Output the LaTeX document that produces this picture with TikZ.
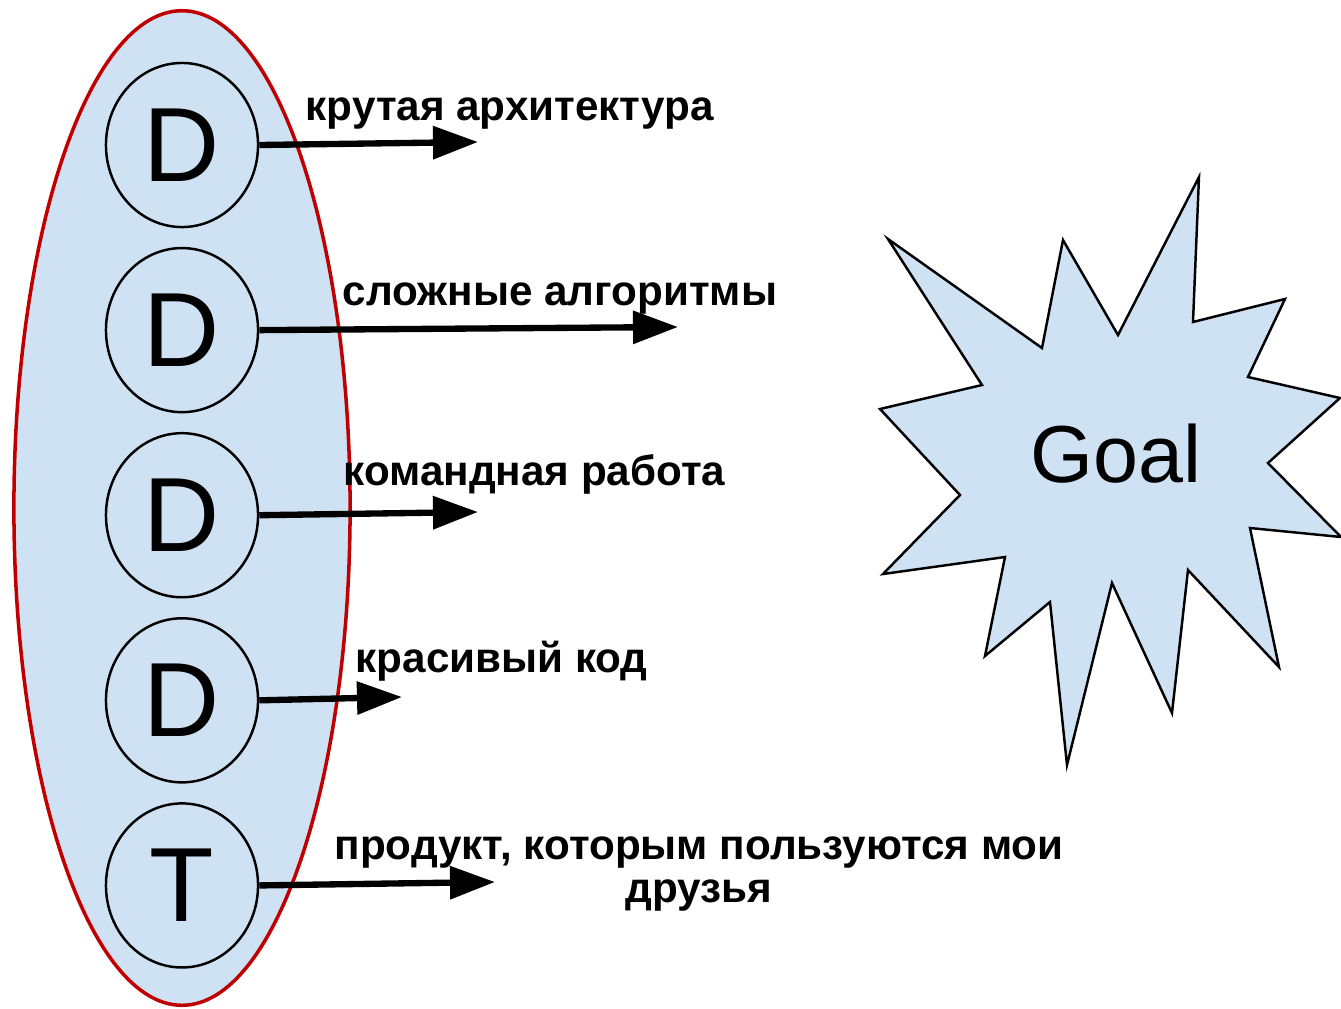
\documentclass[tikz,border=0pt]{standalone}
\usepackage{fontspec}
\setmainfont{Liberation Sans}
\usetikzlibrary{arrows.meta, shapes.geometric}
\definecolor{paleblue}{HTML}{CFE2F3}
\definecolor{darkred}{HTML}{C00000}

\begin{document}
\begin{tikzpicture}[x=0.01cm, y=-0.01cm, node distance=1.85cm,
	letter/.style={ellipse, draw, line width=0.7pt, minimum width=1.52cm, minimum height=1.64cm, inner sep=0pt, font=\fontsize{30}{36}\selectfont},
	arr/.style={-{Triangle[length=0.45cm, width=0.32cm]}, line width=1.8pt},
	note/.style={anchor=base west, inner sep=0pt, font=\fontsize{12}{12}\selectfont\bfseries}]
	\useasboundingbox (0,0) rectangle (1341,1008);

	\draw[darkred, fill=paleblue, line width=1pt] (182,508) ellipse (1.68cm and 4.97cm);

	\node[letter] (d1) at (182,145) {D};
	\node[letter] (d2) [below of=d1] {D};
	\node[letter] (d3) [below of=d2] {D};
	\node[letter] (d4) [below of=d3] {D};
	\node[letter] (t1) [below of=d4] {T};

	\coordinate (e1) at (478,142);
	\coordinate (e2) at (678,327);
	\coordinate (e3) at (478,512);
	\coordinate (e4) at (402,697);
	\coordinate (e5) at (495,882);

	\draw[arr] (d1.east) -- (e1);
	\draw[arr] (d2.east) -- (e2);
	\draw[arr] (d3.east) -- (e3);
	\draw[arr] (d4.east) -- (e4);
	\draw[arr] (t1.east) -- (e5);

	\node[note] (n1) at (305,120) {крутая архитектура};
	\node[note] (n2) at (342,305) {сложные алгоритмы};
	\node[note] (n3) at (343,485) {командная работа};
	\node[note] (n4) at (355,672) {красивый код};
	\node[note, anchor=base, align=center] (n5) at (699,902) {продукт, которым пользуются мои\\друзья};

	% the goal
	\draw[fill=paleblue, line width=0.7pt] (888,239) -- (1042,348) -- (1063,240) -- (1118,335)
		-- (1199,177) -- (1193,322) -- (1285,299) -- (1248,377) -- (1340,398) -- (1268,463)
		-- (1341,537) -- (1250,528) -- (1279,667) -- (1188,570) -- (1172,713) -- (1112,583)
		-- (1067,765) -- (1050,602) -- (985,656) -- (1005,557) -- (883,574) -- (960,495)
		-- (880,409) -- (982,385) -- cycle;
	\node[anchor=base west, inner sep=0pt, font=\fontsize{23}{28}\selectfont] (goal) at (1030,482) {Goal};
\end{tikzpicture}
\end{document}
